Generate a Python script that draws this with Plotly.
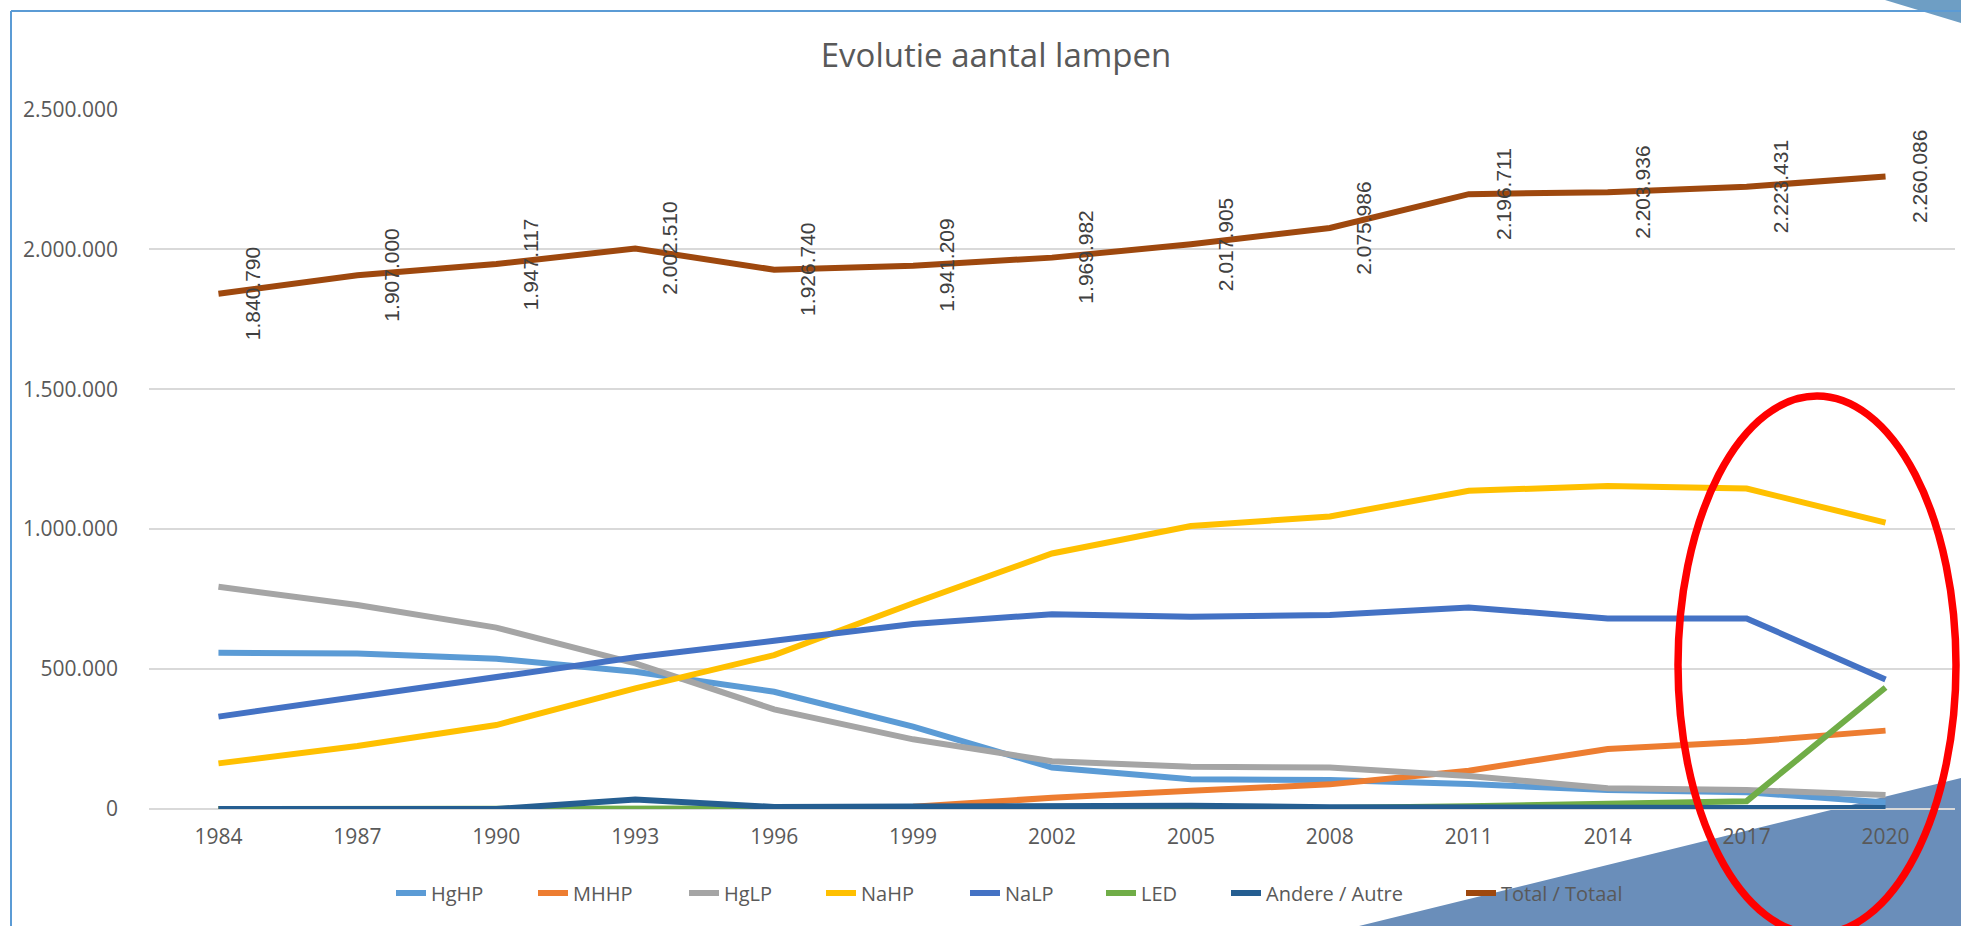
import plotly.graph_objects as go

years = ['1984', '1987', '1990', '1993', '1996', '1999', '2002', '2005', '2008', '2011', '2014', '2017', '2020']
hghp = [558000, 556000, 537000, 490000, 419000, 294000, 148000, 106000, 104000, 89000, 68000, 60000, 23000]
mhhp = [0, 0, 0, 0, 0, 8000, 40000, 65000, 88000, 137000, 214000, 240000, 280000]
hglp = [794000, 729000, 648000, 520000, 356000, 249000, 171000, 151000, 148000, 118000, 74000, 68000, 50000]
nahp = [163000, 225000, 300000, 431000, 550000, 735000, 913000, 1011000, 1045000, 1137000, 1154000, 1145000, 1023000]
nalp = [330000, 401000, 469000, 542000, 601000, 661000, 696000, 687000, 693000, 720000, 681000, 681000, 463000]
led = [0, 0, 0, 5000, 0, 0, 2000, 3000, 4000, 10000, 18000, 28000, 434000]
andere = [0, 0, 0, 34000, 7000, 9000, 12000, 12000, 6000, 4000, 4000, 4000, 4000]
total = [1840790, 1907000, 1947117, 2002510, 1926740, 1941209, 1969982, 2017905, 2075986, 2196711, 2203936, 2223431, 2260086]

series_names = ['HgHP', 'MHHP', 'HgLP', 'NaHP', 'NaLP', 'LED', 'Andere / Autre', 'Total / Totaal']
series_values = [hghp, mhhp, hglp, nahp, nalp, led, andere, total]
series_colors = ['#5B9BD5', '#ED7D31', '#A5A5A5', '#FFC000', '#4472C4', '#70AD47', '#255E91', '#9E480E']
# legend text start positions in the picture (pixels)
legend_text_px = [431, 573, 724, 861, 1005, 1141, 1266, 1501]

W, H = 1961, 926
L, R, T, B = 149, 6, 109, 117
PW = W - L - R
PH = H - T - B

xpos = list(range(len(years)))


def px_x(px):
    return (px - L) / PW


def px_y(py):
    return (H - B - py) / PH


fig = go.Figure()
legend_layouts = {}
for i, (name, vals, col) in enumerate(zip(series_names, series_values, series_colors)):
    lname = 'legend' if i == 0 else f'legend{i + 1}'
    fig.add_trace(go.Scatter(
        x=xpos, y=vals, name=name, mode='lines', customdata=years,
        line=dict(color=col, width=6),
        legend=lname, showlegend=True,
        hovertemplate='%{customdata}: %{y}<extra>' + name + '</extra>'
    ))
    legend_layouts[lname] = dict(
        x=px_x(legend_text_px[i] - 40), y=px_y(893), xanchor='left', yanchor='middle',
        orientation='h', bgcolor='rgba(0,0,0,0)', borderwidth=0,
        font=dict(family='Open Sans', size=20, color='#595959'),
        itemwidth=30, visible=True,
    )

# data labels for the total series
annotations = []
for xi, v in zip(xpos, total):
    annotations.append(dict(
        x=xi, y=v, xref='x', yref='y',
        text=f'{v:,}'.replace(',', '.'),
        textangle=-90, showarrow=False, xshift=34,
        xanchor='center', yanchor='middle', visible=True,
        font=dict(family='Liberation Sans', size=21, color='#404040'),
    ))

shapes = [
    # bottom-right decorative triangle
    dict(type='path', xref='paper', yref='paper', layer='below',
         path=f'M {px_x(1359)},{px_y(926)} L {px_x(1961)},{px_y(778)} L {px_x(1961)},{px_y(926)} Z',
         fillcolor='#6A8EBA', line=dict(width=0)),
    # top-right decorative triangle
    dict(type='path', xref='paper', yref='paper', layer='below',
         path=f'M {px_x(1885)},{px_y(0)} L {px_x(1961)},{px_y(0)} L {px_x(1961)},{px_y(23)} Z',
         fillcolor='#6E9EC4', line=dict(width=0)),
    # chart border (top and left)
    dict(type='line', xref='paper', yref='paper', layer='below',
         x0=px_x(11), y0=px_y(11), x1=px_x(1961), y1=px_y(11),
         line=dict(color='#5B9BD5', width=2)),
    dict(type='line', xref='paper', yref='paper', layer='below',
         x0=px_x(11), y0=px_y(11), x1=px_x(11), y1=px_y(926),
         line=dict(color='#5B9BD5', width=2)),
    # red highlight ellipse
    dict(type='circle', xref='paper', yref='paper', layer='above',
         x0=px_x(1678), x1=px_x(1956), y0=px_y(934), y1=px_y(396),
         line=dict(color='#FF0000', width=7.5), fillcolor='rgba(0,0,0,0)'),
]

fig.update_layout(
    width=W, height=H, autosize=False,
    margin=dict(l=L, r=R, t=T, b=B, autoexpand=False),
    paper_bgcolor='white', plot_bgcolor='rgba(0,0,0,0)',
    separators=',.',
    showlegend=True,
    title=dict(text='Evolutie aantal lampen', x=996 / W, xref='container', xanchor='center',
               y=1 - 55 / H, yref='container', yanchor='middle',
               font=dict(family='Open Sans', size=33, color='#595959')),
    xaxis=dict(type='linear', range=[-0.5, len(years) - 0.5], showgrid=False,
               tickmode='array', tickvals=xpos, ticktext=years,
               showline=False, zeroline=False, ticks='',
               tickfont=dict(family='Open Sans', size=21, color='#595959'),
               ticklabelstandoff=13),
    yaxis=dict(range=[0, 2500000 * 1.0004], dtick=500000, tick0=0, tickformat=',d',
               showgrid=True, gridcolor='#D9D9D9', gridwidth=1.5,
               zeroline=True, zerolinecolor='#D9D9D9', zerolinewidth=1.5,
               showline=False, ticks='',
               tickfont=dict(family='Open Sans', size=21, color='#595959'),
               ticklabelstandoff=30),
    shapes=shapes,
    annotations=annotations,
    hovermode='closest',
    **legend_layouts,
)

fig.write_html('out.html', config={'displayModeBar': False},
               post_script="document.body.style.margin='0px';document.body.style.overflow='hidden';")
